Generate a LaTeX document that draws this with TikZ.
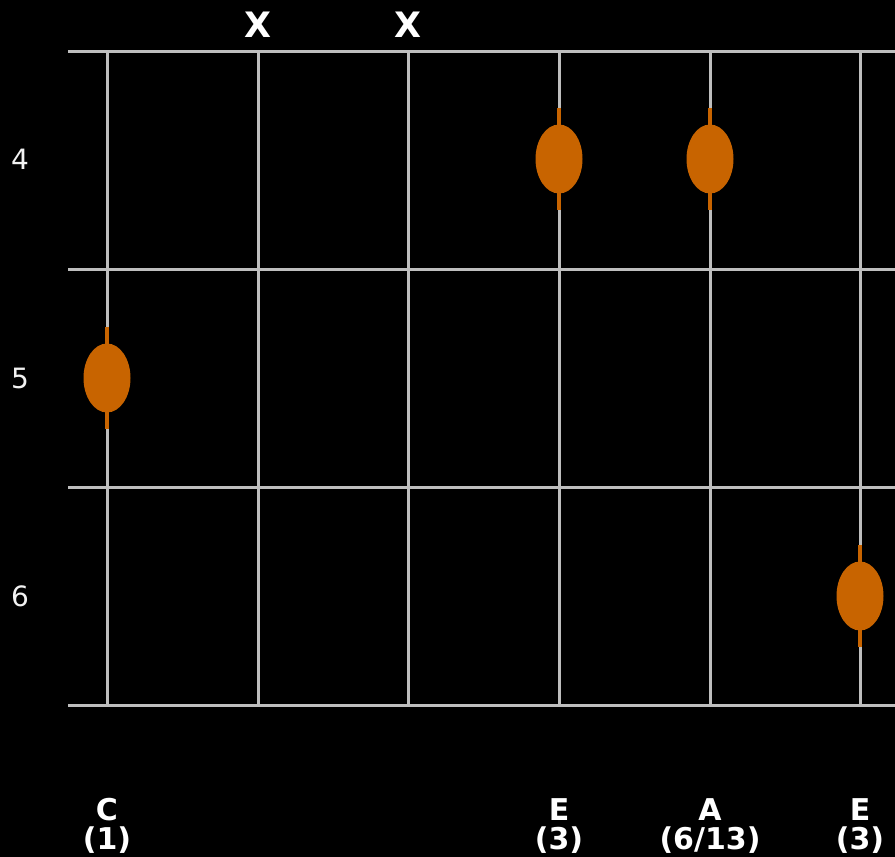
\documentclass[tikz,border=0pt]{standalone}
\usepackage{fontspec}
\setmainfont{DejaVu Sans}
\definecolor{gridgray}{RGB}{190,190,190}
\definecolor{dotorange}{RGB}{200,100,0}
\begin{document}
\begin{tikzpicture}[x=1pt,y=-1pt,
  gridline/.style={draw=gridgray,line width=3pt},
  dotmark/.style={ellipse,fill=dotorange,minimum width=47pt,minimum height=69pt,inner sep=0pt},
  dotbar/.style={draw=dotorange,line width=3.5pt},
  mutelabel/.style={text=white,font=\fontsize{35}{35}\selectfont\bfseries},
  fretnum/.style={text=white!90!gray,font=\fontsize{28}{28}\selectfont},
  notelabel/.style={text=white,font=\fontsize{30}{30}\selectfont\bfseries,anchor=base}]
\usetikzlibrary{shapes.geometric}
\fill[black] (0,0) rectangle (895,857);
\useasboundingbox (0,0) rectangle (895,857);
% strings
\foreach \i/\x in {1/107,2/258,3/408,4/559,5/710,6/860}{
  \coordinate (s\i t) at (\x,51);
  \coordinate (s\i b) at (\x,705);
  \draw[gridline] (s\i t) -- (s\i b);
}
% frets
\foreach \j/\y in {0/51,1/269,2/487,3/705}{
  \coordinate (f\j l) at (68,\y);
  \coordinate (f\j r) at (895,\y);
  \draw[gridline] (f\j l) -- (f\j r);
}
% mutes
\node[mutelabel] (m2) at (258,25) {X};
\node[mutelabel] (m3) at (408,25) {X};
% fret numbers
\node[fretnum] (n4) at (20,159) {4};
\node[fretnum] (n5) at (20,378) {5};
\node[fretnum] (n6) at (20,596) {6};
% dots
\foreach \nm/\x/\y in {da/559/159,db/710/159,dc/107/378,dd/860/596}{
  \coordinate (\nm t) at (\x,\y-51);
  \coordinate (\nm b) at (\x,\y+51);
  \draw[dotbar] (\nm t) -- (\nm b);
  \node[dotmark] (\nm) at (\x,\y) {};
}
% note labels
\node[notelabel] (l1) at (107,820) {C};
\node[notelabel] (l1b) at (107,849) {(1)};
\node[notelabel] (l4) at (559,820) {E};
\node[notelabel] (l4b) at (559,849) {(3)};
\node[notelabel] (l5) at (710,820) {A};
\node[notelabel] (l5b) at (710,849) {(6/13)};
\node[notelabel] (l6) at (860,820) {E};
\node[notelabel] (l6b) at (860,849) {(3)};
\end{tikzpicture}
\end{document}
